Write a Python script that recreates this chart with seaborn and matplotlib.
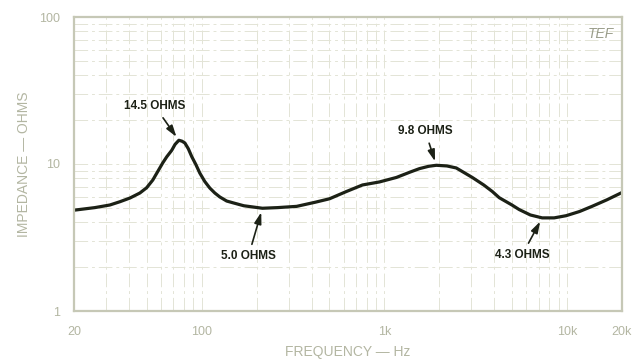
import numpy as np
import pandas as pd
import seaborn as sns
import matplotlib
matplotlib.use("Agg")
import matplotlib.pyplot as plt
from matplotlib.ticker import FixedLocator, NullFormatter, LogLocator

# Impedance curve samples (Hz, ohms)
freq_hz = [20, 26, 31.4, 35.7, 40.5, 45.9, 50, 54, 57.5, 61.3, 64.4, 68.6, 71.5, 75, 78,
           80.9, 84.5, 88.3, 93, 97.6, 104, 110.7, 118, 125.6, 137, 148, 170, 215, 260,
           331, 420, 501, 620, 759, 940, 1164, 1380, 1556, 1750, 1925, 2200, 2475, 3030,
           3500, 3900, 4255, 5010, 5470, 6300, 7310, 8500, 9890, 11700, 13700, 16500, 20000]
impedance_ohm = [4.85, 5.05, 5.26, 5.54, 5.87, 6.35, 6.9, 7.78, 8.9, 10.2, 11.2, 12.4, 13.6,
                 14.5, 14.3, 13.9, 12.7, 11.2, 9.9, 8.69, 7.6, 6.87, 6.35, 5.97, 5.6, 5.45,
                 5.2, 5.0, 5.05, 5.15, 5.5, 5.8, 6.5, 7.2, 7.55, 8.1, 8.8, 9.3, 9.65, 9.8,
                 9.7, 9.4, 8.1, 7.2, 6.5, 5.9, 5.25, 4.9, 4.5, 4.3, 4.3, 4.45, 4.75, 5.15,
                 5.7, 6.4]

x_tick_values = [20, 100, 1000, 10000, 20000]
x_tick_labels = ["20", "100", "1k", "10k", "20k"]
y_tick_values = [1, 10, 100]
y_tick_labels = ["1", "10", "100"]

callout_freq = [75, 215, 1925, 7310]
callout_ohm = [14.5, 5.0, 9.8, 4.3]
callout_text = ["14.5 OHMS", "5.0 OHMS", "9.8 OHMS", "4.3 OHMS"]
callout_offset = [(-24, 34), (-14, -48), (-11, 34), (-20, -37)]

sns.set_style("white")
plt.rcParams["font.family"] = ["Liberation Sans", "DejaVu Sans"]

faint = "#b3b6a2"
frame = "#c6c8b6"
gridc = "#e3e4d6"
ink = "#1c2116"

fig = plt.figure(figsize=(6.35, 3.63), dpi=100)
ax = fig.add_axes([74 / 635, 1 - 311 / 363, 548 / 635, 294 / 363])

df = pd.DataFrame({"freq": freq_hz, "z": impedance_ohm})
ax.set_xscale("log")
ax.set_yscale("log")
sns.lineplot(data=df, x="freq", y="z", ax=ax, color=ink, linewidth=2.3,
             sort=True, estimator=None, solid_joinstyle="round", solid_capstyle="round")

ax.set_xlim(20, 20000)
ax.set_ylim(1, 100)

# grid: decades plus in-between lines
ax.xaxis.set_minor_locator(LogLocator(base=10, subs=np.arange(2, 10)))
ax.yaxis.set_minor_locator(LogLocator(base=10, subs=np.arange(2, 10)))
ax.xaxis.set_minor_formatter(NullFormatter())
ax.yaxis.set_minor_formatter(NullFormatter())
ax.grid(True, which="both", color=gridc, linewidth=0.7, linestyle=(0, (14, 4, 3, 4)))
ax.set_axisbelow(True)

ax.xaxis.set_major_locator(FixedLocator(x_tick_values))
ax.set_xticklabels(x_tick_labels)
ax.yaxis.set_major_locator(FixedLocator(y_tick_values))
ax.set_yticklabels(y_tick_labels)
ax.tick_params(axis="both", which="both", length=0, colors=faint, labelsize=9)
ax.tick_params(axis="x", pad=11)
ax.tick_params(axis="y", pad=10)

for s in ax.spines.values():
    s.set_color(frame)
    s.set_linewidth(1.6)

ax.set_xlabel("FREQUENCY — Hz", color=faint, fontsize=10, labelpad=5)
ax.set_ylabel("IMPEDANCE — OHMS", color=faint, fontsize=10, labelpad=6)

for f, z, t, (dx, dy) in zip(callout_freq, callout_ohm, callout_text, callout_offset):
    ax.annotate(t, xy=(f, z), xytext=(dx, dy), textcoords="offset pixels",
                ha="center", va="center", fontsize=8.5, fontweight="bold", color=ink,
                arrowprops=dict(arrowstyle="-|>,head_length=0.8,head_width=0.25",
                                color=ink, linewidth=1.2, shrinkA=2, shrinkB=3))

ax.text(0.985, 0.965, "TEF", transform=ax.transAxes, ha="right", va="top",
        fontsize=10, style="italic", color="#9a9d8a")

fig.savefig("out.png", dpi=100)
